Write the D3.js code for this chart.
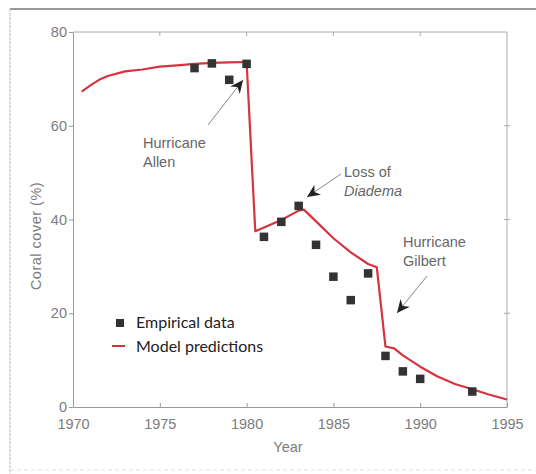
<!DOCTYPE html>
<html><head><meta charset="utf-8">
<script src="https://cdn.jsdelivr.net/npm/d3@7"></script>
<style>
html,body{margin:0;padding:0;background:#fff;}
svg{display:block;}
</style></head>
<body>
<svg id="chart" width="536" height="474"></svg>
<script>
// ---- data ----
const empiricalYears  = [1977, 1978, 1979, 1980, 1981, 1982, 1983, 1984, 1985, 1986, 1987, 1988, 1989, 1990, 1993];
const empiricalValues = [72.3, 73.3, 69.8, 73.2, 36.3, 39.5, 42.9, 34.6, 27.8, 22.8, 28.5, 10.9, 7.6, 6.0, 3.3];
const modelYears  = [1970.5, 1971, 1971.5, 1972, 1973, 1974, 1975, 1976, 1977, 1978, 1979, 1980, 1980.5, 1981, 1982, 1983, 1983.3, 1984, 1985, 1986, 1987, 1987.5, 1988, 1988.5, 1989, 1990, 1991, 1992, 1993, 1994, 1995];
const modelValues = [67.3, 68.6, 69.8, 70.6, 71.6, 72.0, 72.6, 72.9, 73.2, 73.4, 73.5, 73.6, 37.5, 38.3, 39.9, 41.9, 42.1, 39.6, 36.0, 33.0, 30.5, 29.8, 12.9, 12.5, 11.0, 8.6, 6.5, 4.9, 3.8, 2.6, 1.6];
const xTicks = [1970, 1975, 1980, 1985, 1990, 1995];
const yTicks = [0, 20, 40, 60, 80];

const svg = d3.select("#chart");
const L = 73, R = 507, T = 32, B = 407;
const x = d3.scaleLinear().domain([1970, 1995]).range([L, R]);
const y = d3.scaleLinear().domain([0, 80]).range([B, T]);
const tickFont = "Liberation Sans, Arial, Helvetica, sans-serif";
const gray = "#7c7c7c";

// outer figure frame
svg.append("line").attr("x1", 10).attr("x2", 536).attr("y1", 9).attr("y2", 9).attr("stroke", "#777").attr("stroke-width", 1.3);
svg.append("line").attr("x1", 10).attr("x2", 10).attr("y1", 9).attr("y2", 474).attr("stroke", "#bbb").attr("stroke-width", 1).attr("stroke-dasharray", "3,1");
svg.append("line").attr("x1", 10).attr("x2", 536).attr("y1", 470).attr("y2", 470).attr("stroke", "#ddd").attr("stroke-width", 1).attr("stroke-dasharray", "4,3");

// plot box top & right
svg.append("line").attr("x1", L).attr("x2", R).attr("y1", T).attr("y2", T).attr("stroke", "#aaa");
svg.append("line").attr("x1", R).attr("x2", R).attr("y1", T).attr("y2", B).attr("stroke", "#aaa");
// top/right ticks
svg.selectAll(".tt").data(xTicks.slice(1, -1)).enter().append("line")
  .attr("x1", d => x(d)).attr("x2", d => x(d)).attr("y1", T).attr("y2", T + 4).attr("stroke", "#aaa");
svg.selectAll(".rt").data(yTicks.slice(1, -1)).enter().append("line")
  .attr("x1", R - 3).attr("x2", R + 3).attr("y1", d => y(d)).attr("y2", d => y(d)).attr("stroke", "#aaa");

// x axis
const xAxis = svg.append("g").attr("transform", `translate(0,${B})`)
  .call(d3.axisBottom(x).tickValues(xTicks).tickFormat(d3.format("d")).tickSizeInner(-4).tickSizeOuter(0).tickPadding(12));
xAxis.select(".domain").attr("stroke", "#999");
xAxis.selectAll(".tick line").attr("stroke", "#999");
xAxis.selectAll("text").attr("fill", gray).attr("font-family", tickFont).attr("font-size", 14.5);

// y axis
const yAxis = svg.append("g").attr("transform", `translate(${L},0)`)
  .call(d3.axisLeft(y).tickValues(yTicks).tickSizeInner(4).tickSizeOuter(0).tickPadding(2));
yAxis.select(".domain").attr("stroke", "#999");
yAxis.selectAll(".tick line").attr("stroke", "#999");
yAxis.selectAll("text").attr("fill", gray).attr("font-family", tickFont).attr("font-size", 14.5);

// axis titles
svg.append("text").attr("x", 288).attr("y", 452).attr("text-anchor", "middle")
  .attr("fill", gray).attr("font-family", tickFont).attr("font-size", 14.5).text("Year");
svg.append("text").attr("transform", "translate(41,236) rotate(-90)").attr("text-anchor", "middle")
  .attr("fill", gray).attr("font-family", tickFont).attr("font-size", 14.5).attr("letter-spacing", 0.5).text("Coral cover (%)");

// model line
const modelData = modelYears.map((yr, i) => ({yr, v: modelValues[i]}));
svg.append("path").datum(modelData)
  .attr("fill", "none").attr("stroke", "#d7333f").attr("stroke-width", 2.2).attr("stroke-linejoin", "round")
  .attr("d", d3.line().x(d => x(d.yr)).y(d => y(d.v)));

// empirical squares
const s = 8.5;
const empData = empiricalYears.map((yr, i) => ({yr, v: empiricalValues[i]}));
svg.selectAll(".emp").data(empData).enter().append("rect")
  .attr("x", d => x(d.yr) - s / 2).attr("y", d => y(d.v) - s / 2)
  .attr("width", s).attr("height", s).attr("fill", "#333");

// arrow marker
const defs = svg.append("defs");
defs.append("marker").attr("id", "arr").attr("markerUnits", "userSpaceOnUse")
  .attr("markerWidth", 14).attr("markerHeight", 12).attr("viewBox", "0 0 14 12")
  .attr("refX", 13).attr("refY", 6).attr("orient", "auto")
  .append("path").attr("d", "M0,0 L13,6 L0,12 L4,6 Z").attr("fill", "#222");

// annotations
const annots = [
  {lines: [["Hurricane", false], ["Allen", false]], tx: 143, ty: 148, x1: 208, y1: 125, x2: 243, y2: 80},
  {lines: [["Loss of", false], ["Diadema", true]], tx: 344, ty: 177, x1: 341, y1: 174, x2: 307, y2: 197},
  {lines: [["Hurricane", false], ["Gilbert", false]], tx: 403, ty: 247, x1: 427, y1: 276, x2: 397, y2: 313}
];
annots.forEach(a => {
  svg.append("line").attr("x1", a.x1).attr("y1", a.y1).attr("x2", a.x2).attr("y2", a.y2)
    .attr("stroke", "#888").attr("stroke-width", 1).attr("marker-end", "url(#arr)");
  a.lines.forEach((ln, i) => {
    svg.append("text").attr("x", a.tx).attr("y", a.ty + i * 19)
      .attr("fill", "#666").attr("font-family", tickFont).attr("font-size", 14.5)
      .attr("font-style", ln[1] ? "italic" : "normal").text(ln[0]);
  });
});

// legend
const legFont = "Lato, 'Open Sans', sans-serif";
svg.append("rect").attr("x", 116).attr("y", 319).attr("width", 8).attr("height", 8).attr("fill", "#333");
svg.append("text").attr("x", 136).attr("y", 328).attr("fill", "#222").attr("font-family", legFont).attr("font-size", 16).text("Empirical data");
svg.append("line").attr("x1", 112).attr("x2", 125).attr("y1", 346).attr("y2", 346).attr("stroke", "#d7333f").attr("stroke-width", 2);
svg.append("text").attr("x", 136).attr("y", 352).attr("fill", "#222").attr("font-family", legFont).attr("font-size", 16).text("Model predictions");
</script>
</body></html>
